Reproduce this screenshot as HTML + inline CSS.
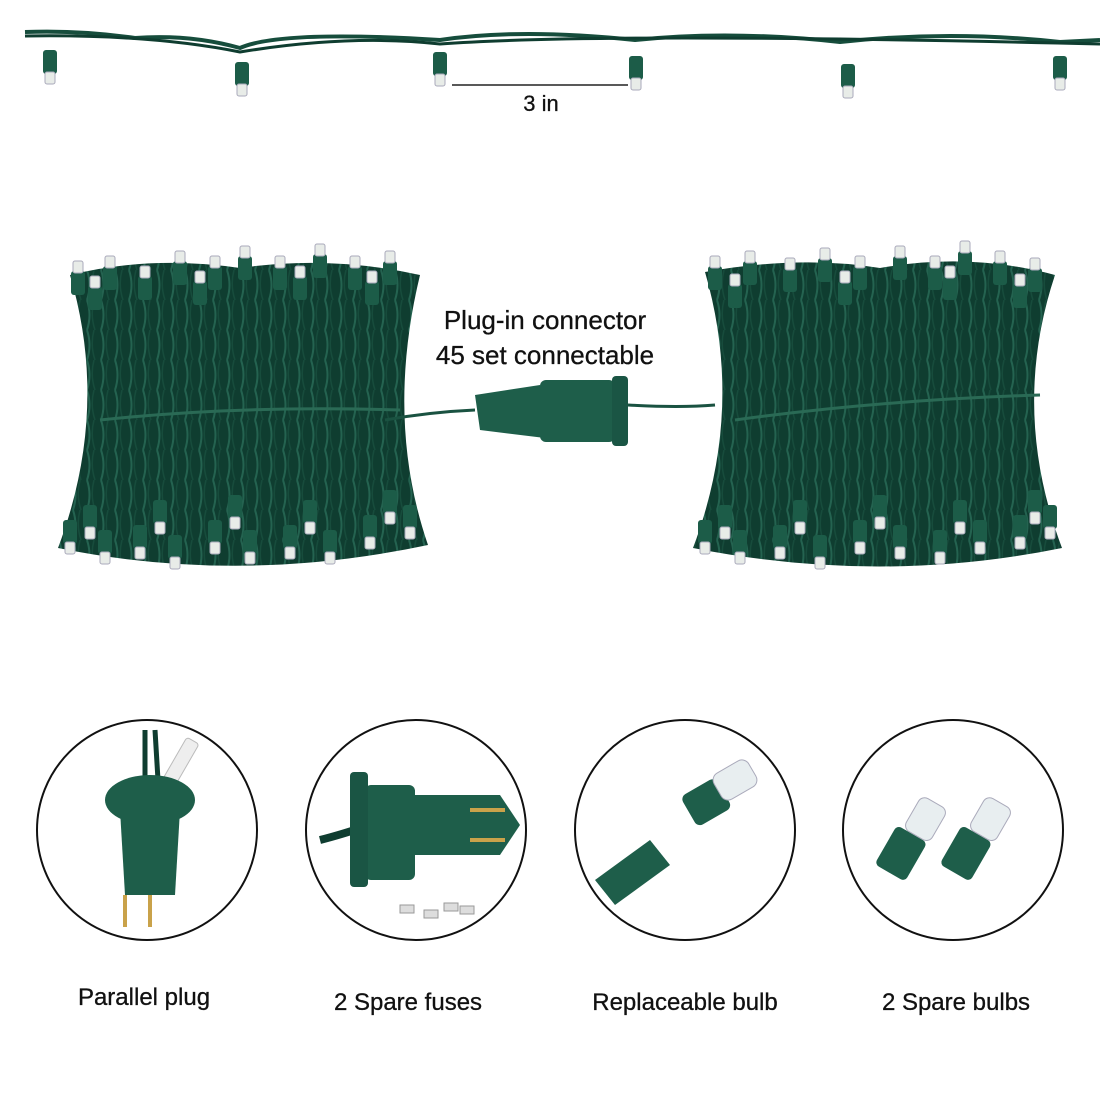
<!DOCTYPE html>
<html><head><meta charset="utf-8"><style>
html,body{margin:0;padding:0;background:#fff;}
body{width:1100px;height:1100px;position:relative;overflow:hidden;font-family:"Liberation Sans",sans-serif;}
.t{position:absolute;color:#111;font-size:24px;text-align:center;white-space:nowrap;-webkit-text-stroke:0.3px #111;}
</style></head><body>
<svg width="1100" height="1100" style="position:absolute;left:0;top:0">
<defs>
<pattern id="wires" width="14" height="30" patternUnits="userSpaceOnUse">
<rect width="14" height="30" fill="#0f3d30"/>
<path d="M3 0 Q8 15 3 30" stroke="#246350" stroke-width="2" fill="none"/>
<path d="M10 0 Q6 15 11 30" stroke="#174c3c" stroke-width="1.5" fill="none"/>
</pattern>
<g id="bulb"><rect x="-7" y="0" width="14" height="24" rx="3" fill="#1c5c48"/><rect x="-5" y="22" width="10" height="12" rx="2" fill="#e8ece8" stroke="#aab" stroke-width="1"/></g>
<g id="bulbU"><rect x="-7" y="-24" width="14" height="24" rx="3" fill="#1c5c48"/><rect x="-5" y="-34" width="10" height="12" rx="2" fill="#e8ece8" stroke="#aab" stroke-width="1"/></g>
</defs>
<path d="M25 32 Q80 30 135 38 Q190 34 240 48 Q280 30 440 40 Q520 28 635 40 Q730 30 840 42 Q950 30 1060 42 L1100 40" stroke="#164d3c" stroke-width="4" fill="none"/>
<path d="M25 36 Q150 34 240 52 Q350 34 440 44 Q600 32 1100 44" stroke="#0f3d30" stroke-width="3" fill="none"/>
<g><use href="#bulb" x="50" y="50"/><use href="#bulb" x="242" y="62"/><use href="#bulb" x="440" y="52"/><use href="#bulb" x="636" y="56"/><use href="#bulb" x="848" y="64"/><use href="#bulb" x="1060" y="56"/></g>
<line x1="452" y1="85" x2="628" y2="85" stroke="#222" stroke-width="1.5"/>
<path d="M70 275 Q150 255 240 268 Q330 255 420 275 Q385 420 428 545 Q240 585 58 548 Q110 410 70 275Z" fill="url(#wires)"/>
<path d="M705 272 Q800 255 880 268 Q970 252 1055 275 Q1010 410 1062 548 Q880 585 693 548 Q745 410 705 272Z" fill="url(#wires)"/>
<path d="M100 420 Q240 405 400 410" stroke="#2a6a55" stroke-width="3" fill="none"/>
<path d="M735 420 Q880 400 1040 395" stroke="#2a6a55" stroke-width="3" fill="none"/>
<g>
<use href="#bulbU" x="78" y="295"/><use href="#bulbU" x="110" y="290"/><use href="#bulbU" x="145" y="300"/><use href="#bulbU" x="180" y="285"/><use href="#bulbU" x="215" y="290"/><use href="#bulbU" x="245" y="280"/><use href="#bulbU" x="280" y="290"/><use href="#bulbU" x="320" y="278"/><use href="#bulbU" x="355" y="290"/><use href="#bulbU" x="390" y="285"/>
<use href="#bulbU" x="95" y="310"/><use href="#bulbU" x="200" y="305"/><use href="#bulbU" x="300" y="300"/><use href="#bulbU" x="372" y="305"/>
<use href="#bulb" x="70" y="520"/><use href="#bulb" x="105" y="530"/><use href="#bulb" x="140" y="525"/><use href="#bulb" x="175" y="535"/><use href="#bulb" x="215" y="520"/><use href="#bulb" x="250" y="530"/><use href="#bulb" x="290" y="525"/><use href="#bulb" x="330" y="530"/><use href="#bulb" x="370" y="515"/><use href="#bulb" x="410" y="505"/>
<use href="#bulb" x="90" y="505"/><use href="#bulb" x="160" y="500"/><use href="#bulb" x="235" y="495"/><use href="#bulb" x="310" y="500"/><use href="#bulb" x="390" y="490"/>
<use href="#bulbU" x="715" y="290"/><use href="#bulbU" x="750" y="285"/><use href="#bulbU" x="790" y="292"/><use href="#bulbU" x="825" y="282"/><use href="#bulbU" x="860" y="290"/><use href="#bulbU" x="900" y="280"/><use href="#bulbU" x="935" y="290"/><use href="#bulbU" x="965" y="275"/><use href="#bulbU" x="1000" y="285"/><use href="#bulbU" x="1035" y="292"/>
<use href="#bulbU" x="735" y="308"/><use href="#bulbU" x="845" y="305"/><use href="#bulbU" x="950" y="300"/><use href="#bulbU" x="1020" y="308"/>
<use href="#bulb" x="705" y="520"/><use href="#bulb" x="740" y="530"/><use href="#bulb" x="780" y="525"/><use href="#bulb" x="820" y="535"/><use href="#bulb" x="860" y="520"/><use href="#bulb" x="900" y="525"/><use href="#bulb" x="940" y="530"/><use href="#bulb" x="980" y="520"/><use href="#bulb" x="1020" y="515"/><use href="#bulb" x="1050" y="505"/>
<use href="#bulb" x="725" y="505"/><use href="#bulb" x="800" y="500"/><use href="#bulb" x="880" y="495"/><use href="#bulb" x="960" y="500"/><use href="#bulb" x="1035" y="490"/>
</g>
<path d="M385 420 Q430 412 475 410" stroke="#1a5241" stroke-width="3" fill="none"/>
<path d="M628 405 Q680 408 715 405" stroke="#1a5241" stroke-width="3" fill="none"/>
<path d="M475 395 L540 385 L545 438 L480 430 Z" fill="#1e5e4a"/>
<rect x="540" y="380" width="75" height="62" rx="6" fill="#1e5e4a"/>
<rect x="612" y="376" width="16" height="70" rx="4" fill="#1a5544"/>
<g fill="none" stroke="#111" stroke-width="2">
<circle cx="147" cy="830" r="110"/><circle cx="416" cy="830" r="110"/><circle cx="685" cy="830" r="110"/><circle cx="953" cy="830" r="110"/>
</g>
<path d="M145 730 L145 780 M155 730 L158 780" stroke="#0f3d30" stroke-width="5" fill="none"/>
<rect x="168" y="777" width="50" height="14" rx="3" fill="#eee" stroke="#bbb" transform="rotate(-60 168 784)"/>
<ellipse cx="150" cy="800" rx="45" ry="25" fill="#1e5e4a"/>
<path d="M120 810 L180 810 L175 895 L125 895 Z" fill="#1e5e4a"/>
<rect x="123" y="895" width="4" height="32" fill="#c9a24a"/><rect x="148" y="895" width="4" height="32" fill="#c9a24a"/>
<path d="M320 840 Q340 835 370 825" stroke="#0f3d30" stroke-width="8" fill="none"/>
<rect x="365" y="785" width="50" height="95" rx="6" fill="#1e5e4a"/>
<rect x="350" y="772" width="18" height="115" rx="4" fill="#1a5544"/>
<path d="M410 795 L500 795 L520 825 L500 855 L410 855 Z" fill="#1e5e4a"/>
<rect x="470" y="808" width="35" height="4" fill="#c9a24a"/><rect x="470" y="838" width="35" height="4" fill="#c9a24a"/>
<g fill="#ddd" stroke="#999"><rect x="400" y="905" width="14" height="8"/><rect x="424" y="910" width="14" height="8"/><rect x="444" y="903" width="14" height="8"/><rect x="460" y="906" width="14" height="8"/></g>
<path d="M595 880 L650 840 L670 865 L615 905 Z" fill="#1e5e4a"/>
<rect x="685" y="785" width="40" height="35" rx="6" fill="#1e5e4a" transform="rotate(-30 705 800)"/>
<rect x="715" y="765" width="40" height="30" rx="8" fill="#e8eef0" stroke="#aab" transform="rotate(-30 735 780)"/>
<rect x="885" y="830" width="35" height="45" rx="5" fill="#1e5e4a" transform="rotate(30 900 850)"/>
<rect x="910" y="800" width="30" height="38" rx="7" fill="#e8eef0" stroke="#aab" transform="rotate(30 925 820)"/>
<rect x="950" y="830" width="35" height="45" rx="5" fill="#1e5e4a" transform="rotate(30 965 850)"/>
<rect x="975" y="800" width="30" height="38" rx="7" fill="#e8eef0" stroke="#aab" transform="rotate(30 990 820)"/>
</svg>
<div class="t" style="left:491px;top:91px;width:100px;font-size:22px">3 in</div>
<div class="t" style="left:395px;top:305px;width:300px;font-size:26px">Plug-in connector</div>
<div class="t" style="left:395px;top:340px;width:300px;font-size:26px">45 set connectable</div>
<div class="t" style="left:44px;top:984px;width:200px">Parallel plug</div>
<div class="t" style="left:308px;top:989px;width:200px">2 Spare fuses</div>
<div class="t" style="left:555px;top:989px;width:260px">Replaceable bulb</div>
<div class="t" style="left:856px;top:989px;width:200px">2 Spare bulbs</div>
</body></html>
